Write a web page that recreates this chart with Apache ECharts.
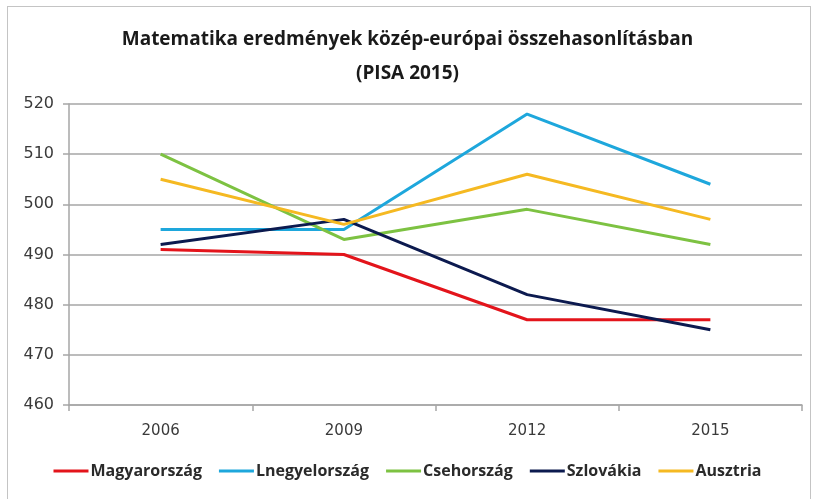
<!DOCTYPE html>
<html>
<head>
<meta charset="utf-8">
<script src="https://cdn.jsdelivr.net/npm/echarts@6/dist/echarts.min.js"></script>
<style>
html,body{margin:0;padding:0;background:#fff;}
#frame{position:absolute;left:7px;top:6px;width:804px;height:520px;border:1.5px solid #c4c4c4;box-sizing:border-box;}
#chart{position:absolute;left:0;top:0;width:815px;height:499px;}
</style>
</head>
<body>
<div id="frame"></div>
<div id="chart"></div>
<script>
const years = ['2006', '2009', '2012', '2015'];
const magyarorszag = [491, 490, 477, 477];
const lengyelorszag = [495, 495, 518, 504];
const csehorszag = [510, 493, 499, 492];
const szlovakia = [492, 497, 482, 475];
const ausztria = [505, 496, 506, 497];
const seriesNames = ['Magyarország', 'Lnegyelország', 'Csehország', 'Szlovákia', 'Ausztria'];
const seriesColors = ['#e3141b', '#1ea7dc', '#7dc242', '#0c1a4f', '#f5b922'];
const seriesData = [magyarorszag, lengyelorszag, csehorszag, szlovakia, ausztria];

const font = '"Open Sans", "Liberation Sans", sans-serif';
const axisFont = '"DejaVu Sans", sans-serif';
const chart = echarts.init(document.getElementById('chart'));
chart.setOption({
  animation: false,
  title: {
    text: 'Matematika eredmények közép-európai összehasonlításban\n(PISA 2015)',
    left: 'center',
    top: 18,
    textStyle: { fontFamily: font, fontSize: 19, fontWeight: 'bold', color: '#1a1a1a', lineHeight: 34 }
  },
  legend: {
    bottom: 15,
    left: 'center',
    itemWidth: 35,
    itemHeight: 3,
    itemGap: 17,
    icon: 'rect',
    textStyle: { fontFamily: font, fontSize: 16, fontWeight: 'bold', color: '#2a2a2a', padding: [0, 0, 0, -3] },
    data: seriesNames
  },
  grid: { left: 69, right: 13, top: 104, bottom: 94 },
  xAxis: {
    type: 'category',
    data: years,
    boundaryGap: true,
    axisLine: { lineStyle: { color: '#a6a6a6', width: 1.5 } },
    axisTick: { show: true, length: 6, lineStyle: { color: '#a6a6a6', width: 1.5 } },
    axisLabel: { fontFamily: axisFont, fontSize: 15, color: '#3a3a3a', margin: 19 }
  },
  yAxis: {
    type: 'value',
    min: 460, max: 520, interval: 10,
    axisLine: { show: true, lineStyle: { color: '#a6a6a6', width: 1.5 } },
    axisTick: { show: true, length: 6, lineStyle: { color: '#a6a6a6', width: 1.5 } },
    splitLine: { lineStyle: { color: '#a6a6a6', width: 1.5 } },
    axisLabel: { fontFamily: axisFont, fontSize: 16, color: '#3a3a3a', margin: 15 }
  },
  series: seriesNames.map((n, i) => ({
    name: n,
    type: 'line',
    data: seriesData[i],
    symbol: 'none',
    lineStyle: { color: seriesColors[i], width: 3 },
    itemStyle: { color: seriesColors[i] }
  }))
});
</script>
</body>
</html>
